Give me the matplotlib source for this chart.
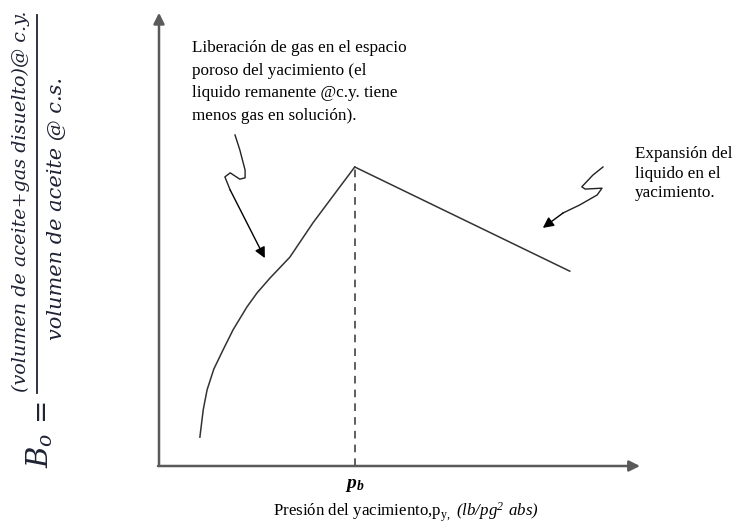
import matplotlib
matplotlib.use("Agg")
import matplotlib.pyplot as plt
from matplotlib.lines import Line2D

plt.rcParams['font.family'] = ['Liberation Serif', 'DejaVu Serif']
plt.rcParams['mathtext.fontset'] = 'custom'
plt.rcParams['mathtext.rm'] = 'Liberation Serif'
plt.rcParams['mathtext.it'] = 'DejaVu Serif:italic'
plt.rcParams['mathtext.bf'] = 'Liberation Serif:bold:italic'
plt.rcParams['mathtext.sf'] = 'Liberation Serif:italic'

# --- schematic data (axis units 0..100) ---
# curve below the bubble point (gas liberation)
liberacion_x = [8.5, 9.2, 10.0, 11.4, 13.3, 15.4, 18.3, 20.4, 23.1, 27.2, 32.0, 37.6, 40.7]
liberacion_y = [6.4, 12.5, 16.9, 21.5, 25.7, 30.2, 35.3, 38.4, 41.7, 46.3, 53.9, 61.9, 66.3]
# straight line above the bubble point (liquid expansion)
expansion_x = [40.7, 85.4]
expansion_y = [66.3, 43.2]
pb = 40.7

# squiggly pointer arrows
flecha_izq_x = [15.8, 16.8, 17.9, 17.9, 16.8, 14.8, 13.7, 14.8, 22.0]
flecha_izq_y = [73.4, 70.1, 65.6, 63.9, 63.6, 65.0, 64.1, 61.2, 46.1]
flecha_der_x = [92.3, 90.2, 87.9, 88.6, 92.1, 91.1, 87.5, 84.0, 79.8]
flecha_der_y = [66.3, 64.5, 61.9, 61.4, 61.6, 60.1, 57.9, 56.1, 52.8]

texto_izq = ("Liberación de gas en el espacio\nporoso del yacimiento (el\n"
             "liquido remanente @c.y. tiene\nmenos gas en solución).")
texto_der = "Expansión del\nliquido en el\nyacimiento."

W, H = 734, 525
fig = plt.figure(figsize=(W / 100, H / 100), dpi=100)
ax = fig.add_axes([159 / W, 59 / H, 481 / W, 451 / H])
ax.set_xlim(0, 100)
ax.set_ylim(0, 100)
ax.axis('off')

# axes with arrow heads
axis_kw = dict(arrowstyle='-|>', color='#5a5a5a', lw=1.8, mutation_scale=16,
               shrinkA=0, shrinkB=0)
ax.annotate('', xy=(0, 100.5), xytext=(0, 0), arrowprops=axis_kw, annotation_clip=False)
ax.annotate('', xy=(100, 0), xytext=(-0.2, 0), arrowprops=axis_kw, annotation_clip=False)

ax.plot(liberacion_x, liberacion_y, color='#333333', lw=1.1)
ax.plot(expansion_x, expansion_y, color='#333333', lw=1.1)
ax.plot([pb, pb], [0, expansion_y[0]], color='#333333', lw=1.1, ls=(0, (5, 4)))

# squiggly arrows
for fx, fy in [(flecha_izq_x, flecha_izq_y), (flecha_der_x, flecha_der_y)]:
    ax.plot(fx[:-1], fy[:-1], color='#222222', lw=1.0)
    ax.annotate('', xy=(fx[-1], fy[-1]), xytext=(fx[-2], fy[-2]),
                arrowprops=dict(arrowstyle='-|>', color='black', lw=1.0,
                                mutation_scale=16, shrinkA=0, shrinkB=0))

# annotations
fig.text(192 / W, 1 - 40 / H, texto_izq, fontsize=12.3, va='top', ha='left',
         linespacing=1.55)
fig.text(635 / W, 1 - 146 / H, texto_der, fontsize=12.3, va='top', ha='left',
         linespacing=1.3)

# p_b label and x label
ax.text(pb, -2.5, r'$\mathbf{p_b}$', fontsize=14, ha='center', va='top')
fig.text(406 / W, 1 - 512 / H,
         r'Presión del yacimiento,p$_{\mathrm{y},}$ $\mathsf{(lb/pg^2\ abs)}$',
         fontsize=12.2, ha='center', va='center')

# y label: B_o = numerator / denominator (rotated)
ycol = '#1e2233'
fig.text(21 / W, 1 - 201 / H, '(volumen de aceite+gas disuelto)@ c.y.',
         family='DejaVu Serif', style='italic', fontsize=13.8, rotation=90,
         ha='center', va='center', color=ycol)
fig.text(57 / W, 1 - 208 / H, 'volumen de aceite @ c.s.',
         family='DejaVu Serif', style='italic', fontsize=15, rotation=90,
         ha='center', va='center', color=ycol)
fig.add_artist(Line2D([37 / W, 37 / W], [1 - 15 / H, 1 - 393 / H],
                      transform=fig.transFigure, color=ycol, lw=1.3))
fig.text(40 / W, 1 - 408 / H, '=', family='DejaVu Sans', fontsize=20,
         rotation=90, ha='center', va='center', color=ycol)
fig.text(40 / W, 1 - 450 / H, r'$B_o$', fontsize=21, rotation=90,
         ha='center', va='center', color=ycol)

fig.savefig('out.png', dpi=100)
